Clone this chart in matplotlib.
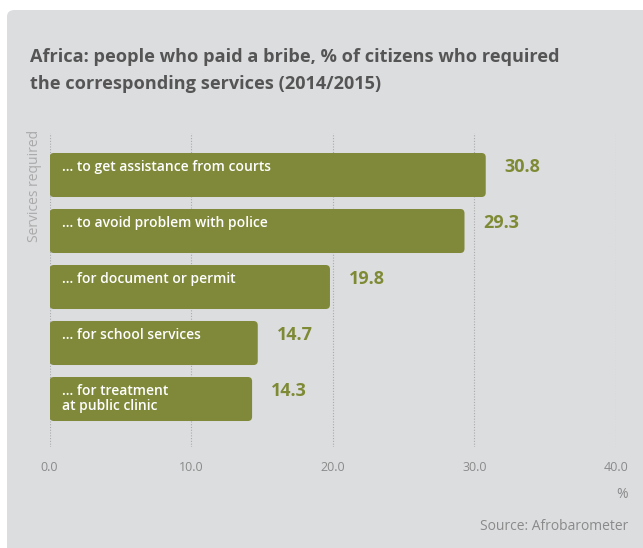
import matplotlib.pyplot as plt
from matplotlib.patches import FancyBboxPatch

labels = ["... to get assistance from courts", "... to avoid problem with police",
          "... for document or permit", "... for school services",
          "... for treatment\nat public clinic"]
values = [30.8, 29.3, 19.8, 14.7, 14.3]
ticks = [0, 10, 20, 30, 40]

olive = "#80893a"
W, H = 643, 548

plt.rcParams['font.family'] = ['Open Sans', 'DejaVu Sans']
fig = plt.figure(figsize=(W / 100, H / 100), dpi=100, facecolor="white")

# gray card
card = FancyBboxPatch((7 / W, -0.05), 1.0, (H - 10) / H + 0.05,
                      boxstyle="round,pad=0,rounding_size=0.012",
                      transform=fig.transFigure, facecolor="#dcdddf",
                      edgecolor="none", zorder=-5)
fig.patches.append(card)

fig.text(30 / W, 1 - 57 / H, "Africa: people who paid a bribe, % of citizens who required",
         fontsize=13.1, fontweight="bold", color="#555555", va="center")
fig.text(30 / W, 1 - 84 / H, "the corresponding services (2014/2015)",
         fontsize=13.1, fontweight="bold", color="#555555", va="center")

left, right = 49.6 / W, 616 / W
top, bottom = 1 - 133 / H, 1 - 447 / H
ax = fig.add_axes([left, bottom, right - left, top - bottom])
ax.set_facecolor("none")

y = list(range(len(values)))
bars = ax.barh(y, values, height=0.786, color=olive)
ax.set_xlim(0, 40)
ax.set_ylim(4.857, -0.75)

# swap bars for rounded ones
for b in bars:
    x0, y0 = b.get_x(), b.get_y()
    w, h = b.get_width(), b.get_height()
    b.set_visible(False)
    ax.add_patch(FancyBboxPatch((x0, y0), w, h,
                                boxstyle="round,pad=0,rounding_size=0.3",
                                mutation_aspect=0.253, facecolor=olive,
                                edgecolor="none", zorder=3))

for i, (lab, v) in enumerate(zip(labels, values)):
    ax.text(0.9, i - 0.393 + 0.13, lab, color="white", fontsize=10,
            fontweight="semibold", va="top", ha="left", zorder=4, linespacing=1.1)
    ax.text(v + 1.35, i - 0.15, f"{v:.1f}", color="#7f8a35", fontsize=13,
            fontweight="bold", va="center", ha="left", zorder=4)

ax.set_xticks(ticks)
ax.set_xticklabels([f"{t:.1f}" for t in ticks], color="#8a8a8a", fontsize=9)
ax.set_yticks([])
ax.tick_params(axis="x", length=0, pad=10)
for t in ticks:
    ax.axvline(t, color="#aaaaaa", linestyle=(0, (1, 1.5)), linewidth=0.8, zorder=1)
for s in ax.spines.values():
    s.set_visible(False)

fig.text(35 / W, 1 - 130 / H, "Services required", rotation=90, color="#aaaaaa",
         fontsize=10, ha="center", va="top")
fig.text(628 / W, 1 - 495 / H, "%", color="#8a8a8a", fontsize=10, ha="right", va="center")
fig.text(628 / W, 1 - 527 / H, "Source: Afrobarometer", color="#8a8a8a", fontsize=10,
         ha="right", va="center")

fig.savefig("out.png", dpi=100, facecolor="white")
